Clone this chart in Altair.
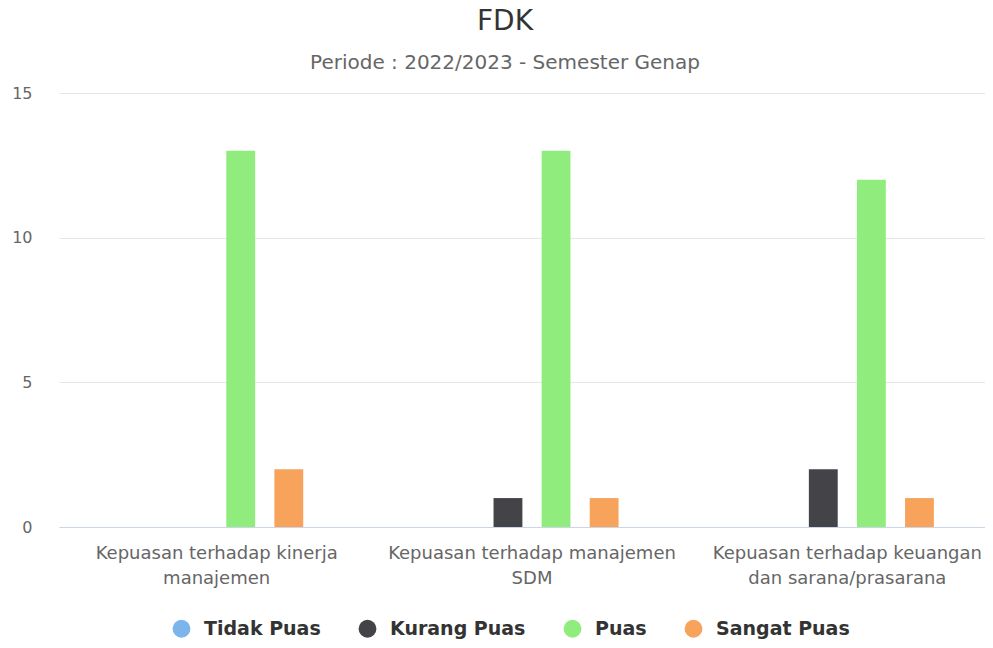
import altair as alt
import pandas as pd

categories = [
    "Kepuasan terhadap kinerja\nmanajemen",
    "Kepuasan terhadap manajemen\nSDM",
    "Kepuasan terhadap keuangan\ndan sarana/prasarana",
]
series = ["Tidak Puas", "Kurang Puas", "Puas", "Sangat Puas"]
tidak_puas = [0, 0, 0]
kurang_puas = [0, 1, 2]
puas = [13, 13, 12]
sangat_puas = [2, 1, 1]
colors = ["#7cb5ec", "#434348", "#90ed7d", "#f7a35c"]
y_ticks = [0, 5, 10, 15]

rows = []
for s, vals in zip(series, [tidak_puas, kurang_puas, puas, sangat_puas]):
    for c, v in zip(categories, vals):
        rows.append({"kategori": c, "seri": s, "nilai": v})
df = pd.DataFrame(rows)

FONT = "DejaVu Sans"

chart = alt.Chart(df).mark_bar().encode(
    x=alt.X(
        "kategori:N", sort=categories, title=None,
        scale=alt.Scale(range=[0, 946], paddingInner=0.39, paddingOuter=0.195),
        axis=alt.Axis(
            labelAngle=0, labelExpr="split(datum.label, '\\n')",
            labelFontSize=18, labelColor="#666666", labelFont=FONT,
            labelLineHeight=25, labelPadding=17, ticks=False,
            domainColor="#ccd6eb", domainWidth=1, grid=False, labelLimit=400,
            labelBaseline="top",
        ),
    ),
    xOffset=alt.XOffset(
        "seri:N", sort=series,
        scale=alt.Scale(paddingInner=0.4, paddingOuter=0.2),
    ),
    y=alt.Y(
        "nilai:Q", title=None,
        scale=alt.Scale(domain=[0, 15], nice=False),
        axis=alt.Axis(
            values=y_ticks, labelFontSize=16, labelColor="#666666", labelFont=FONT,
            labelPadding=27, ticks=False, domain=False,
            gridColor="#e6e6e6", gridWidth=1,
        ),
    ),
    color=alt.Color(
        "seri:N", sort=series,
        scale=alt.Scale(domain=series, range=colors),
        legend=alt.Legend(
            title=None, orient="none", legendX=113, legendY=526,
            direction="horizontal", columns=4,
            symbolType="circle", symbolSize=320, symbolStrokeWidth=0, symbolOpacity=1,
            labelFontSize=19, labelFontWeight="bold", labelColor="#333333", labelFont=FONT,
            columnPadding=37, labelOffset=13, padding=0,
        ),
    ),
).properties(
    width=926,
    height=434,
    title=alt.TitleParams(
        text="FDK",
        subtitle="Periode : 2022/2023 - Semester Genap",
        anchor="middle", frame="group", dx=-17,
        font=FONT, fontSize=28, fontWeight="normal", color="#333333",
        subtitleFont=FONT, subtitleFontSize=20, subtitleColor="#666666",
        subtitlePadding=17, offset=12,
    ),
    autosize=alt.AutoSizeParams(type="none"),
    padding={"left": 51, "top": 85, "right": 0, "bottom": 113},
).configure_view(stroke=None)

chart.save("out.html", embed_options={"renderer": "svg", "actions": False})
